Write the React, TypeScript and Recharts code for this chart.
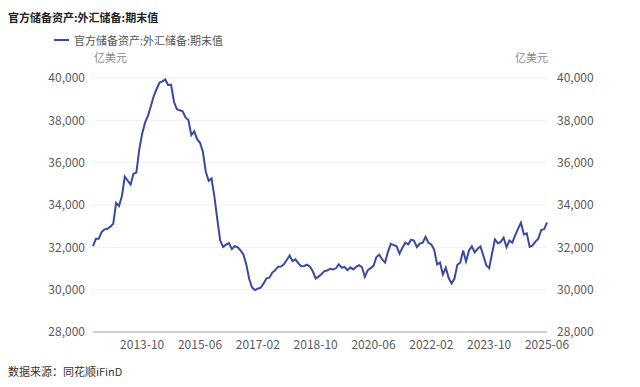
import { LineChart, Line, XAxis, YAxis, CartesianGrid, Legend } from 'recharts'

const FONT = '"Noto Sans CJK SC", "Noto Sans", sans-serif'
const LINE_COLOR = '#3a4a9c'

// 月份 2012-05 ~ 2025-06
const months: string[] = []
for (let y = 2012; y <= 2025; y++) {
    for (let m = 1; m <= 12; m++) {
        if ((y === 2012 && m < 5) || (y === 2025 && m > 6)) continue
        months.push(`${y}-${String(m).padStart(2, '0')}`)
    }
}

// 外汇储备期末值（亿美元）
const reserves = [
    32061, 32400, 32400, 32730, 32851, 32874, 32976, 33116,
    34100, 33952, 34426, 35345, 35148, 34967, 35478, 35530, 36627, 37366, 37895, 38213,
    38666, 39137, 39481, 39788, 39839, 39932, 39662, 39688, 38877, 38529, 38473, 38430,
    38134, 38015, 37300, 37481, 37111, 36938, 36513, 35574, 35141, 35255, 34383, 33304,
    32309, 32023, 32126, 32197, 31917, 32052, 32011, 31852, 31664, 31207, 30516, 30105,
    29982, 30051, 30091, 30295, 30536, 30568, 30807, 30915, 31085, 31092, 31193, 31399,
    31614, 31345, 31428, 31249, 31106, 31121, 31179, 31097, 30870, 30531, 30617, 30727,
    30879, 30902, 30988, 30950, 31010, 31192, 31037, 31072, 30924, 31052, 30956, 31079,
    31155, 31067, 30606, 30915, 31017, 31123, 31543, 31646, 31426, 31280, 31785, 32165,
    32107, 32050, 31700, 31982, 32218, 32140, 32359, 32321, 32006, 32176, 32224, 32502,
    32216, 32138, 31880, 31197, 31278, 30713, 31041, 30549, 30290, 30524, 31175, 31277,
    31845, 31334, 31839, 32048, 31765, 31930, 32043, 31601, 31151, 31012, 31718, 32380,
    32193, 32258, 32457, 32008, 32320, 32224, 32564, 32882, 33164, 32610, 32659, 32024,
    32090, 32272, 32407, 32817, 32853, 33174,
]

const xTicks = ['2013-10', '2015-06', '2017-02', '2018-10', '2020-06', '2022-02', '2023-10', '2025-06']
const yTicks = [28000, 30000, 32000, 34000, 36000, 38000, 40000]

const SERIES_NAME = '官方储备资产:外汇储备:期末值'

const data = months.map((date, i) => ({ date, value: reserves[i] }))

const fmt = (v: number) => v.toLocaleString('en-US')

function LegendContent() {
    return (
        <div style={{ display: 'flex', alignItems: 'center', fontFamily: FONT, fontSize: 11, color: '#555' }}>
            <svg width={15} height={10} style={{ marginRight: 5 }}>
                <line x1={0} y1={5} x2={15} y2={5} stroke={LINE_COLOR} strokeWidth={2} />
            </svg>
            <span>{SERIES_NAME}</span>
        </div>
    )
}

export default function App() {
    const tickStyle = { fontSize: 12, fill: '#595959', fontFamily: FONT }
    return (
        <div style={{ position: 'absolute', left: 0, top: 0, width: 640, height: 387, background: '#fff', fontFamily: FONT }}>
            <div style={{ position: 'absolute', left: 8, top: 10, fontSize: 11, lineHeight: '14px', fontWeight: 'bold', color: '#222' }}>
                {SERIES_NAME}
            </div>
            <div style={{ position: 'absolute', left: 94, top: 50, fontSize: 11, lineHeight: '14px', color: '#888' }}>亿美元</div>
            <div style={{ position: 'absolute', right: 92, top: 50, fontSize: 11, lineHeight: '14px', color: '#888' }}>亿美元</div>
            <LineChart width={640} height={387} data={data} margin={{ top: 78, right: 33, bottom: 25, left: 33 }}>
                <CartesianGrid vertical={false} stroke="#eef0f7" yAxisId="left" />
                <XAxis
                    dataKey="date"
                    ticks={xTicks}
                    interval={0}
                    tickLine={false}
                    axisLine={{ stroke: '#a3a8c2' }}
                    tick={tickStyle}
                    height={30}
                />
                <YAxis
                    yAxisId="left"
                    domain={[28000, 40000]}
                    ticks={yTicks}
                    tickFormatter={fmt}
                    axisLine={false}
                    tickLine={false}
                    tick={tickStyle}
                    width={60}
                />
                <YAxis
                    yAxisId="right"
                    orientation="right"
                    domain={[28000, 40000]}
                    ticks={yTicks}
                    tickFormatter={fmt}
                    axisLine={false}
                    tickLine={false}
                    tick={tickStyle}
                    tickMargin={4}
                    width={60}
                />
                <Legend
                    layout="vertical"
                    align="center"
                    verticalAlign="middle"
                    wrapperStyle={{ top: 32, left: 54, width: 'auto' }}
                    content={<LegendContent />}
                />
                <Line
                    yAxisId="left"
                    type="linear"
                    dataKey="value"
                    name={SERIES_NAME}
                    stroke={LINE_COLOR}
                    strokeWidth={2}
                    dot={false}
                    isAnimationActive={false}
                />
                {/* 右轴与左轴同刻度，挂一条透明线使其渲染 */}
                <Line
                    yAxisId="right"
                    type="linear"
                    dataKey="value"
                    stroke="transparent"
                    strokeWidth={0}
                    dot={false}
                    activeDot={false}
                    legendType="none"
                    isAnimationActive={false}
                />
            </LineChart>
            <div style={{ position: 'absolute', left: 8, top: 364, fontSize: 11, lineHeight: '14px', color: '#333' }}>
                数据来源：同花顺iFinD
            </div>
        </div>
    )
}
